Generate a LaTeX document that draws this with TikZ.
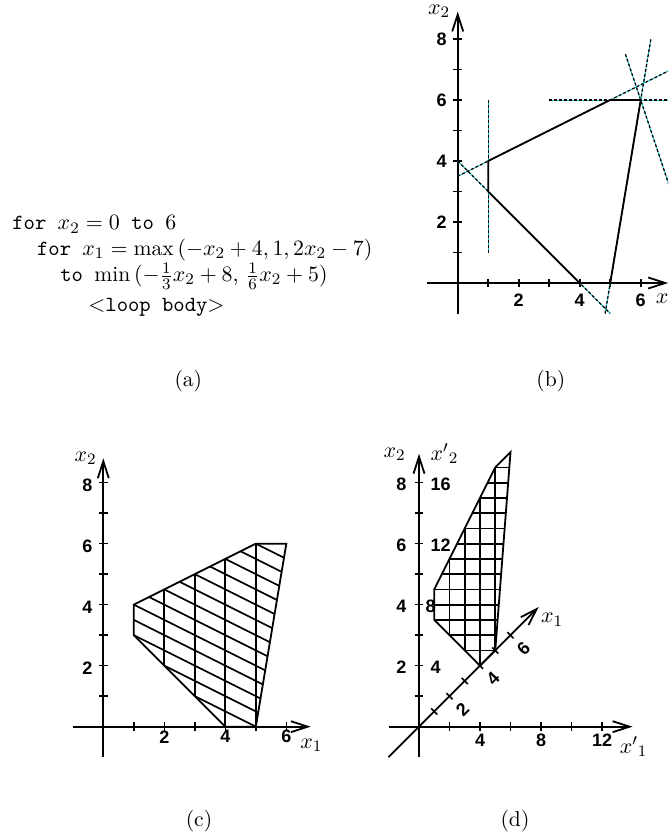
\documentclass[tikz,border=0pt]{standalone}
\usepackage{fontspec}
\setsansfont{Liberation Sans}
\usetikzlibrary{arrows.meta}

\definecolor{guidecyan}{RGB}{0,190,200}

\tikzset{
  axis/.style={line width=0.9pt, -{Straight Barb[length=8.5pt,width=5.5pt,line width=0.9pt]}},
  tickmark/.style={line width=0.8pt},
  region/.style={line width=0.9pt},
  hatch/.style={line width=0.85pt},
  guide/.style={line width=0.65pt, dash pattern=on 1.4pt off 1.1pt, preaction={draw=guidecyan, solid}},
  ticklabel/.style={font=\sffamily\bfseries\fontsize{9}{10}\selectfont, inner sep=0pt},
  axislabel/.style={font=\fontsize{11}{12}\selectfont, inner sep=0pt},
  codeline/.style={font=\fontsize{10.8}{12}\selectfont, anchor=base west, inner sep=0pt},
  caption/.style={font=\fontsize{10.8}{12}\selectfont, inner sep=0pt}
}

\begin{document}
\begin{tikzpicture}[x=15.25pt,y=15.25pt]
    \useasboundingbox (0,0) rectangle (21.902,27.377);
    \clip (0,0) rectangle (21.902,27.377);

    % Panel (a) - loop nest
    \node[codeline] (loopa) at (0.393,19.836) {\texttt{for\ }$x_2 = 0$\texttt{\ to\ }$6$};
    \node[codeline] (loopb) at (1.203,19.016) {\texttt{for\ }$x_1 = \max\,(-x_2+4, 1, 2x_2-7)$};
    \node[codeline] (loopc) at (1.967,18.142) {\texttt{to\ }$\min\,(-\frac{1}{3}x_2+8,\,\frac{1}{6}x_2+5)$};
    \node[codeline] (loopd) at (2.885,17.180) {$<$\texttt{loop body}$>$};
    \node[caption] (capa) at (6.174,14.885) {(a)};

    % Panel (b) - bounding lines of the iteration space
    \begin{scope}[shift={(15.007,18.098)}]
        \draw[axis] (-1,0) -- (6.9,0);
        \draw[axis] (0,-1) -- (0,8.9);
        \foreach \x in {1,...,6} \draw[tickmark] (\x,-0.14) -- (\x,0.14);
        \foreach \y in {1,...,8} \draw[tickmark] (-0.14,\y) -- (0.14,\y);
        \foreach \x in {2,4,6} \node[ticklabel] (bx\x) at (\x,-0.56) {\x};
        \foreach \y in {2,4,6,8} \node[ticklabel] (by\y) at (-0.53,\y) {\y};
        \node[axislabel] (bxtwo) at (-0.61,8.9) {$x_2$};
        \node[axislabel, anchor=west] (bxone) at (6.48,-0.58) {$x_1$};

        % guide lines (one per bound)
        \draw[guide] (1,1) -- (1,6);
        \draw[guide] (3,6) -- (7.5,6);
        \draw[guide] (0,4) -- (5,-1);
        \draw[guide] (0,3.5) -- (7.5,7.25);
        \draw[guide] (5.5,7.5) -- (7.5,1.5);
        \draw[guide] (4.8333,-1) -- (6.3333,8);

        % the region itself
        \draw[region] (1,3) -- (1,4) -- (5,6) -- (6,6) -- (5,0) -- (4,0) -- cycle;
    \end{scope}
    \node[caption] (capb) at (18.059,14.885) {(b)};

    % Panel (c) - original space with hatching
    \begin{scope}[shift={(3.387,3.551)}]
        \draw[axis] (-1,0) -- (6.8,0);
        \draw[axis] (0,-1) -- (0,8.8);
        \foreach \x in {1,...,6} \draw[tickmark] (\x,-0.14) -- (\x,0.14);
        \foreach \y in {1,...,8} \draw[tickmark] (-0.14,\y) -- (0.14,\y);
        \foreach \x in {2,4,6} \node[ticklabel] (cx\x) at (\x,-0.33) {\x};
        \foreach \y in {2,4,6,8} \node[ticklabel] (cy\y) at (-0.52,\y-0.08) {\y};
        \node[axislabel] (cxtwo) at (-0.58,8.81) {$x_2$};
        \node[axislabel, anchor=west] (cxone) at (6.45,-0.6) {$x_1$};

        \begin{scope}
            \clip (1,3) -- (1,4) -- (5,6) -- (6,6) -- (5,0) -- (4,0) -- cycle;
            \foreach \x in {2,...,5} \draw[hatch] (\x,-1) -- (\x,9);
            \foreach \k in {5,...,17} \draw[hatch] (\k+4,-2) -- (\k-16,8);
        \end{scope}
        \draw[region] (1,3) -- (1,4) -- (5,6) -- (6,6) -- (5,0) -- (4,0) -- cycle;
    \end{scope}
    \node[caption] (capc) at (6.525,0.459) {(c)};

    % Panel (d) - skewed space (x'1 = x1, x'2 = x1 + 2 x2)
    \begin{scope}[shift={(13.738,3.551)}, x=7.625pt, y=7.625pt]
        \draw[axis] (-2,0) -- (14,0);
        \draw[axis] (0,-2) -- (0,17.9);
        \draw[axis] (-2,-2) -- (7.85,7.85);
        \foreach \x in {2,4,...,12} \draw[tickmark] (\x,-0.28) -- (\x,0.28);
        \foreach \y in {2,4,...,16} \draw[tickmark] (-0.28,\y) -- (0.28,\y);
        \foreach \t in {1,...,6} \draw[tickmark] (\t-0.2,\t+0.2) -- (\t+0.2,\t-0.2);
        \foreach \x in {4,8,12} \node[ticklabel] (dx\x) at (\x,-0.87) {\x};
        \foreach \y/\v in {4/2,8/4,12/6,16/8} \node[ticklabel] (dy\y) at (-1.15,\y-0.1) {\v};
        \foreach \y in {4,12,16} \node[ticklabel, anchor=west] (dp\y) at (0.73,\y-0.1) {\y};
        \node[ticklabel, anchor=west] (dp8) at (0.4,7.9) {8};
        \foreach \t in {2,4,6} \node[ticklabel, rotate=45] (dt\t) at (\t+0.85,\t-0.85) {\t};
        \node[axislabel] (dxtwo) at (-1.6,17.85) {$x_2$};
        \node[axislabel] (dxptwo) at (1.67,17.9) {$x'{}_2$};
        \node[axislabel] (dxpone) at (14.07,-1.32) {$x'{}_1$};
        \node[axislabel] (dxone) at (8.73,7.01) {$x_1$};

        \begin{scope}
            \clip (1,7) -- (1,9) -- (5,17) -- (6,18) -- (5,5) -- (4,4) -- cycle;
            \foreach \x in {2,...,5} \draw[hatch] (\x,3) -- (\x,19);
            \foreach \y in {5,...,17} \draw[hatch] (0,\y) -- (7,\y);
        \end{scope}
        \draw[region] (1,7) -- (1,9) -- (5,17) -- (6,18) -- (5,5) -- (4,4) -- cycle;
    \end{scope}
    \node[caption] (capd) at (16.885,0.459) {(d)};
\end{tikzpicture}
\end{document}
